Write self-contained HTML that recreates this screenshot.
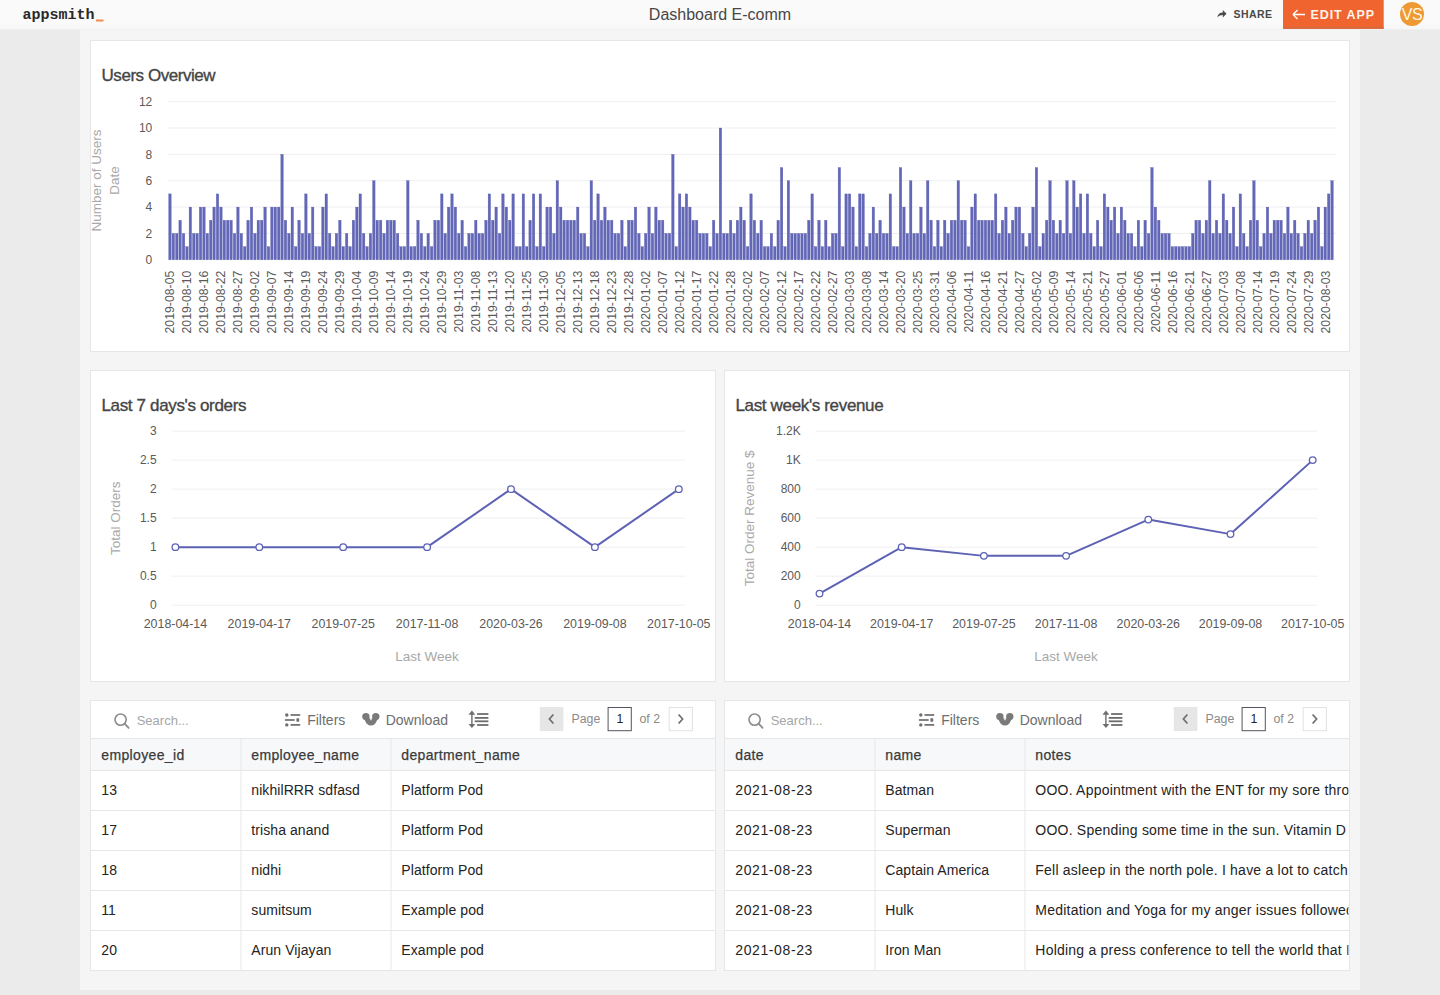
<!DOCTYPE html><html><head><meta charset="utf-8"><title>Dashboard E-comm</title><style>
*{margin:0;padding:0;box-sizing:border-box}
html,body{width:1440px;height:995px;overflow:hidden;background:#ebebeb;font-family:"Liberation Sans", sans-serif}
.abs{position:absolute}
.hdr{left:0;top:0;width:1440px;height:30px;background:linear-gradient(#fafafa 0,#fafafa 24px,#f8f8f8 25px,#f8f8f8 29px);border-bottom:1px solid #efefef}
.canvas{left:80px;top:30px;width:1280px;height:960px;background:#f5f5f5}
.card{background:#fff;border:1px solid #e6e6e6}
svg text{font-family:"Liberation Sans", sans-serif}
</style></head><body>
<div class="abs canvas"></div>
<div class="abs hdr"></div>
<div class="abs card" style="left:90px;top:40px;width:1260px;height:312px"></div>
<div class="abs card" style="left:90px;top:370px;width:626px;height:312px"></div>
<div class="abs card" style="left:724px;top:370px;width:626px;height:312px"></div>
<div class="abs card" style="left:90px;top:700px;width:626px;height:271px"></div>
<div class="abs card" style="left:724px;top:700px;width:626px;height:271px"></div>
<svg class="abs" style="left:0;top:0" width="1440" height="995" viewBox="0 0 1440 995">
<text x="22.5" y="18.5" style="font-family:Liberation Mono;font-weight:bold" font-size="15" fill="#2a2a2a">appsmith</text>
<rect x="96" y="19.5" width="7.5" height="2" fill="#f28b52"/>
<text x="720.00" y="20.00" font-size="16" fill="#474747" text-anchor="middle" >Dashboard E-comm</text>
<path d="M1217.3 17.6 C1217.8 14 1219.8 12.4 1222.8 12.4 L1222.8 10.1 L1226.5 13.8 L1222.8 17.4 L1222.8 15.1 C1220.6 15.1 1219.1 15.8 1217.3 17.6 Z" fill="#4a4a4a"/>
<text x="1233.50" y="17.70" font-size="10.5" fill="#4a4a4a" text-anchor="start" font-weight="bold" letter-spacing="0.45">SHARE</text>
<rect x="1283" y="0" width="100.7" height="28.8" fill="#f0652f"/><rect x="1283" y="26.8" width="100.7" height="2" fill="#d8683f"/>
<path d="M1293 14.5 H1305 M1293 14.5 L1297.5 10 M1293 14.5 L1297.5 19" stroke="#fff" stroke-width="1.4" fill="none"/>
<text x="1310.50" y="19.00" font-size="12.5" fill="#fff3ea" text-anchor="start" font-weight="bold" letter-spacing="0.9">EDIT APP</text>
<circle cx="1412" cy="14" r="12" fill="#ee9a34"/>
<text x="1412.00" y="20.00" font-size="16" fill="#fff6e0" text-anchor="middle" letter-spacing="-0.5">VS</text>
<text x="101.50" y="81.00" font-size="17" fill="#454545" text-anchor="start" letter-spacing="-0.45" stroke="#454545" stroke-width="0.35">Users Overview</text>
<rect x="168" y="259.30" width="1168" height="1" fill="#efefef"/>
<text x="152.30" y="264.00" font-size="12" fill="#5a5a5a" text-anchor="end" >0</text>
<rect x="168" y="232.94" width="1168" height="1" fill="#efefef"/>
<text x="152.30" y="237.64" font-size="12" fill="#5a5a5a" text-anchor="end" >2</text>
<rect x="168" y="206.58" width="1168" height="1" fill="#efefef"/>
<text x="152.30" y="211.28" font-size="12" fill="#5a5a5a" text-anchor="end" >4</text>
<rect x="168" y="180.22" width="1168" height="1" fill="#efefef"/>
<text x="152.30" y="184.92" font-size="12" fill="#5a5a5a" text-anchor="end" >6</text>
<rect x="168" y="153.86" width="1168" height="1" fill="#efefef"/>
<text x="152.30" y="158.56" font-size="12" fill="#5a5a5a" text-anchor="end" >8</text>
<rect x="168" y="127.50" width="1168" height="1" fill="#efefef"/>
<text x="152.30" y="132.20" font-size="12" fill="#5a5a5a" text-anchor="end" >10</text>
<rect x="168" y="101.14" width="1168" height="1" fill="#efefef"/>
<text x="152.30" y="105.84" font-size="12" fill="#5a5a5a" text-anchor="end" >12</text>
<g fill="#6367b7" stroke="#565bab" stroke-width="0.3"><rect x="168.70" y="193.90" width="2.5" height="65.90"/><rect x="172.10" y="233.44" width="2.5" height="26.36"/><rect x="175.50" y="233.44" width="2.5" height="26.36"/><rect x="178.89" y="220.26" width="2.5" height="39.54"/><rect x="182.29" y="233.44" width="2.5" height="26.36"/><rect x="185.69" y="246.62" width="2.5" height="13.18"/><rect x="189.09" y="207.08" width="2.5" height="52.72"/><rect x="192.49" y="233.44" width="2.5" height="26.36"/><rect x="195.88" y="233.44" width="2.5" height="26.36"/><rect x="199.28" y="207.08" width="2.5" height="52.72"/><rect x="202.68" y="207.08" width="2.5" height="52.72"/><rect x="206.08" y="233.44" width="2.5" height="26.36"/><rect x="209.48" y="220.26" width="2.5" height="39.54"/><rect x="212.87" y="207.08" width="2.5" height="52.72"/><rect x="216.27" y="193.90" width="2.5" height="65.90"/><rect x="219.67" y="207.08" width="2.5" height="52.72"/><rect x="223.07" y="220.26" width="2.5" height="39.54"/><rect x="226.47" y="220.26" width="2.5" height="39.54"/><rect x="229.86" y="220.26" width="2.5" height="39.54"/><rect x="233.26" y="233.44" width="2.5" height="26.36"/><rect x="236.66" y="207.08" width="2.5" height="52.72"/><rect x="240.06" y="233.44" width="2.5" height="26.36"/><rect x="243.46" y="246.62" width="2.5" height="13.18"/><rect x="246.85" y="220.26" width="2.5" height="39.54"/><rect x="250.25" y="207.08" width="2.5" height="52.72"/><rect x="253.65" y="233.44" width="2.5" height="26.36"/><rect x="257.05" y="220.26" width="2.5" height="39.54"/><rect x="260.45" y="220.26" width="2.5" height="39.54"/><rect x="263.84" y="207.08" width="2.5" height="52.72"/><rect x="267.24" y="246.62" width="2.5" height="13.18"/><rect x="270.64" y="207.08" width="2.5" height="52.72"/><rect x="274.04" y="207.08" width="2.5" height="52.72"/><rect x="277.44" y="207.08" width="2.5" height="52.72"/><rect x="280.83" y="154.36" width="2.5" height="105.44"/><rect x="284.23" y="220.26" width="2.5" height="39.54"/><rect x="287.63" y="233.44" width="2.5" height="26.36"/><rect x="291.03" y="207.08" width="2.5" height="52.72"/><rect x="294.43" y="246.62" width="2.5" height="13.18"/><rect x="297.82" y="220.26" width="2.5" height="39.54"/><rect x="301.22" y="233.44" width="2.5" height="26.36"/><rect x="304.62" y="193.90" width="2.5" height="65.90"/><rect x="308.02" y="233.44" width="2.5" height="26.36"/><rect x="311.42" y="207.08" width="2.5" height="52.72"/><rect x="314.81" y="246.62" width="2.5" height="13.18"/><rect x="318.21" y="246.62" width="2.5" height="13.18"/><rect x="321.61" y="207.08" width="2.5" height="52.72"/><rect x="325.01" y="193.90" width="2.5" height="65.90"/><rect x="328.41" y="233.44" width="2.5" height="26.36"/><rect x="331.80" y="246.62" width="2.5" height="13.18"/><rect x="335.20" y="233.44" width="2.5" height="26.36"/><rect x="338.60" y="220.26" width="2.5" height="39.54"/><rect x="342.00" y="246.62" width="2.5" height="13.18"/><rect x="345.40" y="233.44" width="2.5" height="26.36"/><rect x="348.79" y="246.62" width="2.5" height="13.18"/><rect x="352.19" y="220.26" width="2.5" height="39.54"/><rect x="355.59" y="207.08" width="2.5" height="52.72"/><rect x="358.99" y="193.90" width="2.5" height="65.90"/><rect x="362.39" y="233.44" width="2.5" height="26.36"/><rect x="365.78" y="246.62" width="2.5" height="13.18"/><rect x="369.18" y="233.44" width="2.5" height="26.36"/><rect x="372.58" y="180.72" width="2.5" height="79.08"/><rect x="375.98" y="220.26" width="2.5" height="39.54"/><rect x="379.38" y="220.26" width="2.5" height="39.54"/><rect x="382.77" y="233.44" width="2.5" height="26.36"/><rect x="386.17" y="220.26" width="2.5" height="39.54"/><rect x="389.57" y="220.26" width="2.5" height="39.54"/><rect x="392.97" y="220.26" width="2.5" height="39.54"/><rect x="396.37" y="233.44" width="2.5" height="26.36"/><rect x="399.76" y="246.62" width="2.5" height="13.18"/><rect x="403.16" y="246.62" width="2.5" height="13.18"/><rect x="406.56" y="180.72" width="2.5" height="79.08"/><rect x="409.96" y="246.62" width="2.5" height="13.18"/><rect x="413.36" y="246.62" width="2.5" height="13.18"/><rect x="416.75" y="220.26" width="2.5" height="39.54"/><rect x="420.15" y="233.44" width="2.5" height="26.36"/><rect x="423.55" y="246.62" width="2.5" height="13.18"/><rect x="426.95" y="233.44" width="2.5" height="26.36"/><rect x="430.35" y="246.62" width="2.5" height="13.18"/><rect x="433.74" y="220.26" width="2.5" height="39.54"/><rect x="437.14" y="220.26" width="2.5" height="39.54"/><rect x="440.54" y="193.90" width="2.5" height="65.90"/><rect x="443.94" y="233.44" width="2.5" height="26.36"/><rect x="447.34" y="207.08" width="2.5" height="52.72"/><rect x="450.73" y="193.90" width="2.5" height="65.90"/><rect x="454.13" y="207.08" width="2.5" height="52.72"/><rect x="457.53" y="233.44" width="2.5" height="26.36"/><rect x="460.93" y="220.26" width="2.5" height="39.54"/><rect x="464.33" y="246.62" width="2.5" height="13.18"/><rect x="467.72" y="233.44" width="2.5" height="26.36"/><rect x="471.12" y="233.44" width="2.5" height="26.36"/><rect x="474.52" y="220.26" width="2.5" height="39.54"/><rect x="477.92" y="233.44" width="2.5" height="26.36"/><rect x="481.32" y="233.44" width="2.5" height="26.36"/><rect x="484.71" y="220.26" width="2.5" height="39.54"/><rect x="488.11" y="193.90" width="2.5" height="65.90"/><rect x="491.51" y="220.26" width="2.5" height="39.54"/><rect x="494.91" y="207.08" width="2.5" height="52.72"/><rect x="498.31" y="233.44" width="2.5" height="26.36"/><rect x="501.70" y="193.90" width="2.5" height="65.90"/><rect x="505.10" y="207.08" width="2.5" height="52.72"/><rect x="508.50" y="220.26" width="2.5" height="39.54"/><rect x="511.90" y="193.90" width="2.5" height="65.90"/><rect x="515.30" y="246.62" width="2.5" height="13.18"/><rect x="518.69" y="246.62" width="2.5" height="13.18"/><rect x="522.09" y="193.90" width="2.5" height="65.90"/><rect x="525.49" y="246.62" width="2.5" height="13.18"/><rect x="528.89" y="220.26" width="2.5" height="39.54"/><rect x="532.29" y="193.90" width="2.5" height="65.90"/><rect x="535.68" y="246.62" width="2.5" height="13.18"/><rect x="539.08" y="193.90" width="2.5" height="65.90"/><rect x="542.48" y="246.62" width="2.5" height="13.18"/><rect x="545.88" y="207.08" width="2.5" height="52.72"/><rect x="549.28" y="207.08" width="2.5" height="52.72"/><rect x="552.67" y="233.44" width="2.5" height="26.36"/><rect x="556.07" y="180.72" width="2.5" height="79.08"/><rect x="559.47" y="207.08" width="2.5" height="52.72"/><rect x="562.87" y="220.26" width="2.5" height="39.54"/><rect x="566.27" y="220.26" width="2.5" height="39.54"/><rect x="569.66" y="220.26" width="2.5" height="39.54"/><rect x="573.06" y="220.26" width="2.5" height="39.54"/><rect x="576.46" y="207.08" width="2.5" height="52.72"/><rect x="579.86" y="233.44" width="2.5" height="26.36"/><rect x="583.26" y="233.44" width="2.5" height="26.36"/><rect x="586.65" y="246.62" width="2.5" height="13.18"/><rect x="590.05" y="180.72" width="2.5" height="79.08"/><rect x="593.45" y="220.26" width="2.5" height="39.54"/><rect x="596.85" y="193.90" width="2.5" height="65.90"/><rect x="600.25" y="220.26" width="2.5" height="39.54"/><rect x="603.64" y="207.08" width="2.5" height="52.72"/><rect x="607.04" y="220.26" width="2.5" height="39.54"/><rect x="610.44" y="220.26" width="2.5" height="39.54"/><rect x="613.84" y="233.44" width="2.5" height="26.36"/><rect x="617.24" y="233.44" width="2.5" height="26.36"/><rect x="620.63" y="220.26" width="2.5" height="39.54"/><rect x="624.03" y="246.62" width="2.5" height="13.18"/><rect x="627.43" y="220.26" width="2.5" height="39.54"/><rect x="630.83" y="220.26" width="2.5" height="39.54"/><rect x="634.23" y="207.08" width="2.5" height="52.72"/><rect x="637.62" y="233.44" width="2.5" height="26.36"/><rect x="641.02" y="246.62" width="2.5" height="13.18"/><rect x="644.42" y="233.44" width="2.5" height="26.36"/><rect x="647.82" y="207.08" width="2.5" height="52.72"/><rect x="651.22" y="233.44" width="2.5" height="26.36"/><rect x="654.61" y="207.08" width="2.5" height="52.72"/><rect x="658.01" y="220.26" width="2.5" height="39.54"/><rect x="661.41" y="220.26" width="2.5" height="39.54"/><rect x="664.81" y="233.44" width="2.5" height="26.36"/><rect x="668.21" y="233.44" width="2.5" height="26.36"/><rect x="671.60" y="154.36" width="2.5" height="105.44"/><rect x="675.00" y="246.62" width="2.5" height="13.18"/><rect x="678.40" y="193.90" width="2.5" height="65.90"/><rect x="681.80" y="207.08" width="2.5" height="52.72"/><rect x="685.20" y="193.90" width="2.5" height="65.90"/><rect x="688.59" y="207.08" width="2.5" height="52.72"/><rect x="691.99" y="220.26" width="2.5" height="39.54"/><rect x="695.39" y="220.26" width="2.5" height="39.54"/><rect x="698.79" y="233.44" width="2.5" height="26.36"/><rect x="702.19" y="233.44" width="2.5" height="26.36"/><rect x="705.58" y="233.44" width="2.5" height="26.36"/><rect x="708.98" y="246.62" width="2.5" height="13.18"/><rect x="712.38" y="220.26" width="2.5" height="39.54"/><rect x="715.78" y="233.44" width="2.5" height="26.36"/><rect x="719.18" y="128.00" width="2.5" height="131.80"/><rect x="722.57" y="233.44" width="2.5" height="26.36"/><rect x="725.97" y="233.44" width="2.5" height="26.36"/><rect x="729.37" y="220.26" width="2.5" height="39.54"/><rect x="732.77" y="233.44" width="2.5" height="26.36"/><rect x="736.17" y="220.26" width="2.5" height="39.54"/><rect x="739.56" y="207.08" width="2.5" height="52.72"/><rect x="742.96" y="220.26" width="2.5" height="39.54"/><rect x="746.36" y="246.62" width="2.5" height="13.18"/><rect x="749.76" y="193.90" width="2.5" height="65.90"/><rect x="753.16" y="220.26" width="2.5" height="39.54"/><rect x="756.55" y="233.44" width="2.5" height="26.36"/><rect x="759.95" y="220.26" width="2.5" height="39.54"/><rect x="763.35" y="246.62" width="2.5" height="13.18"/><rect x="766.75" y="246.62" width="2.5" height="13.18"/><rect x="770.15" y="233.44" width="2.5" height="26.36"/><rect x="773.54" y="246.62" width="2.5" height="13.18"/><rect x="776.94" y="220.26" width="2.5" height="39.54"/><rect x="780.34" y="167.54" width="2.5" height="92.26"/><rect x="783.74" y="246.62" width="2.5" height="13.18"/><rect x="787.14" y="180.72" width="2.5" height="79.08"/><rect x="790.53" y="233.44" width="2.5" height="26.36"/><rect x="793.93" y="233.44" width="2.5" height="26.36"/><rect x="797.33" y="233.44" width="2.5" height="26.36"/><rect x="800.73" y="233.44" width="2.5" height="26.36"/><rect x="804.13" y="233.44" width="2.5" height="26.36"/><rect x="807.52" y="220.26" width="2.5" height="39.54"/><rect x="810.92" y="193.90" width="2.5" height="65.90"/><rect x="814.32" y="246.62" width="2.5" height="13.18"/><rect x="817.72" y="220.26" width="2.5" height="39.54"/><rect x="821.12" y="246.62" width="2.5" height="13.18"/><rect x="824.51" y="220.26" width="2.5" height="39.54"/><rect x="827.91" y="246.62" width="2.5" height="13.18"/><rect x="831.31" y="233.44" width="2.5" height="26.36"/><rect x="834.71" y="233.44" width="2.5" height="26.36"/><rect x="838.11" y="167.54" width="2.5" height="92.26"/><rect x="841.50" y="246.62" width="2.5" height="13.18"/><rect x="844.90" y="193.90" width="2.5" height="65.90"/><rect x="848.30" y="193.90" width="2.5" height="65.90"/><rect x="851.70" y="207.08" width="2.5" height="52.72"/><rect x="855.10" y="246.62" width="2.5" height="13.18"/><rect x="858.49" y="193.90" width="2.5" height="65.90"/><rect x="861.89" y="193.90" width="2.5" height="65.90"/><rect x="865.29" y="246.62" width="2.5" height="13.18"/><rect x="868.69" y="233.44" width="2.5" height="26.36"/><rect x="872.09" y="207.08" width="2.5" height="52.72"/><rect x="875.48" y="233.44" width="2.5" height="26.36"/><rect x="878.88" y="220.26" width="2.5" height="39.54"/><rect x="882.28" y="233.44" width="2.5" height="26.36"/><rect x="885.68" y="233.44" width="2.5" height="26.36"/><rect x="889.08" y="193.90" width="2.5" height="65.90"/><rect x="892.47" y="246.62" width="2.5" height="13.18"/><rect x="895.87" y="246.62" width="2.5" height="13.18"/><rect x="899.27" y="167.54" width="2.5" height="92.26"/><rect x="902.67" y="207.08" width="2.5" height="52.72"/><rect x="906.07" y="233.44" width="2.5" height="26.36"/><rect x="909.46" y="180.72" width="2.5" height="79.08"/><rect x="912.86" y="233.44" width="2.5" height="26.36"/><rect x="916.26" y="233.44" width="2.5" height="26.36"/><rect x="919.66" y="207.08" width="2.5" height="52.72"/><rect x="923.06" y="233.44" width="2.5" height="26.36"/><rect x="926.45" y="180.72" width="2.5" height="79.08"/><rect x="929.85" y="220.26" width="2.5" height="39.54"/><rect x="933.25" y="246.62" width="2.5" height="13.18"/><rect x="936.65" y="220.26" width="2.5" height="39.54"/><rect x="940.05" y="246.62" width="2.5" height="13.18"/><rect x="943.44" y="220.26" width="2.5" height="39.54"/><rect x="946.84" y="233.44" width="2.5" height="26.36"/><rect x="950.24" y="220.26" width="2.5" height="39.54"/><rect x="953.64" y="220.26" width="2.5" height="39.54"/><rect x="957.04" y="180.72" width="2.5" height="79.08"/><rect x="960.43" y="220.26" width="2.5" height="39.54"/><rect x="963.83" y="220.26" width="2.5" height="39.54"/><rect x="967.23" y="246.62" width="2.5" height="13.18"/><rect x="970.63" y="207.08" width="2.5" height="52.72"/><rect x="974.03" y="193.90" width="2.5" height="65.90"/><rect x="977.42" y="220.26" width="2.5" height="39.54"/><rect x="980.82" y="220.26" width="2.5" height="39.54"/><rect x="984.22" y="220.26" width="2.5" height="39.54"/><rect x="987.62" y="220.26" width="2.5" height="39.54"/><rect x="991.02" y="220.26" width="2.5" height="39.54"/><rect x="994.41" y="193.90" width="2.5" height="65.90"/><rect x="997.81" y="233.44" width="2.5" height="26.36"/><rect x="1001.21" y="220.26" width="2.5" height="39.54"/><rect x="1004.61" y="207.08" width="2.5" height="52.72"/><rect x="1008.01" y="233.44" width="2.5" height="26.36"/><rect x="1011.40" y="220.26" width="2.5" height="39.54"/><rect x="1014.80" y="207.08" width="2.5" height="52.72"/><rect x="1018.20" y="207.08" width="2.5" height="52.72"/><rect x="1021.60" y="233.44" width="2.5" height="26.36"/><rect x="1025.00" y="246.62" width="2.5" height="13.18"/><rect x="1028.39" y="233.44" width="2.5" height="26.36"/><rect x="1031.79" y="207.08" width="2.5" height="52.72"/><rect x="1035.19" y="167.54" width="2.5" height="92.26"/><rect x="1038.59" y="246.62" width="2.5" height="13.18"/><rect x="1041.99" y="233.44" width="2.5" height="26.36"/><rect x="1045.38" y="220.26" width="2.5" height="39.54"/><rect x="1048.78" y="180.72" width="2.5" height="79.08"/><rect x="1052.18" y="220.26" width="2.5" height="39.54"/><rect x="1055.58" y="233.44" width="2.5" height="26.36"/><rect x="1058.98" y="220.26" width="2.5" height="39.54"/><rect x="1062.37" y="233.44" width="2.5" height="26.36"/><rect x="1065.77" y="180.72" width="2.5" height="79.08"/><rect x="1069.17" y="233.44" width="2.5" height="26.36"/><rect x="1072.57" y="180.72" width="2.5" height="79.08"/><rect x="1075.97" y="207.08" width="2.5" height="52.72"/><rect x="1079.36" y="193.90" width="2.5" height="65.90"/><rect x="1082.76" y="233.44" width="2.5" height="26.36"/><rect x="1086.16" y="193.90" width="2.5" height="65.90"/><rect x="1089.56" y="233.44" width="2.5" height="26.36"/><rect x="1092.96" y="246.62" width="2.5" height="13.18"/><rect x="1096.35" y="220.26" width="2.5" height="39.54"/><rect x="1099.75" y="246.62" width="2.5" height="13.18"/><rect x="1103.15" y="193.90" width="2.5" height="65.90"/><rect x="1106.55" y="207.08" width="2.5" height="52.72"/><rect x="1109.95" y="220.26" width="2.5" height="39.54"/><rect x="1113.34" y="207.08" width="2.5" height="52.72"/><rect x="1116.74" y="233.44" width="2.5" height="26.36"/><rect x="1120.14" y="207.08" width="2.5" height="52.72"/><rect x="1123.54" y="220.26" width="2.5" height="39.54"/><rect x="1126.94" y="233.44" width="2.5" height="26.36"/><rect x="1130.33" y="233.44" width="2.5" height="26.36"/><rect x="1133.73" y="246.62" width="2.5" height="13.18"/><rect x="1137.13" y="220.26" width="2.5" height="39.54"/><rect x="1140.53" y="246.62" width="2.5" height="13.18"/><rect x="1143.93" y="220.26" width="2.5" height="39.54"/><rect x="1147.32" y="233.44" width="2.5" height="26.36"/><rect x="1150.72" y="167.54" width="2.5" height="92.26"/><rect x="1154.12" y="207.08" width="2.5" height="52.72"/><rect x="1157.52" y="220.26" width="2.5" height="39.54"/><rect x="1160.92" y="233.44" width="2.5" height="26.36"/><rect x="1164.31" y="233.44" width="2.5" height="26.36"/><rect x="1167.71" y="233.44" width="2.5" height="26.36"/><rect x="1171.11" y="246.62" width="2.5" height="13.18"/><rect x="1174.51" y="246.62" width="2.5" height="13.18"/><rect x="1177.91" y="246.62" width="2.5" height="13.18"/><rect x="1181.30" y="246.62" width="2.5" height="13.18"/><rect x="1184.70" y="246.62" width="2.5" height="13.18"/><rect x="1188.10" y="246.62" width="2.5" height="13.18"/><rect x="1191.50" y="233.44" width="2.5" height="26.36"/><rect x="1194.90" y="220.26" width="2.5" height="39.54"/><rect x="1198.29" y="220.26" width="2.5" height="39.54"/><rect x="1201.69" y="233.44" width="2.5" height="26.36"/><rect x="1205.09" y="220.26" width="2.5" height="39.54"/><rect x="1208.49" y="180.72" width="2.5" height="79.08"/><rect x="1211.89" y="233.44" width="2.5" height="26.36"/><rect x="1215.28" y="220.26" width="2.5" height="39.54"/><rect x="1218.68" y="233.44" width="2.5" height="26.36"/><rect x="1222.08" y="193.90" width="2.5" height="65.90"/><rect x="1225.48" y="220.26" width="2.5" height="39.54"/><rect x="1228.88" y="233.44" width="2.5" height="26.36"/><rect x="1232.27" y="207.08" width="2.5" height="52.72"/><rect x="1235.67" y="246.62" width="2.5" height="13.18"/><rect x="1239.07" y="193.90" width="2.5" height="65.90"/><rect x="1242.47" y="233.44" width="2.5" height="26.36"/><rect x="1245.87" y="246.62" width="2.5" height="13.18"/><rect x="1249.26" y="220.26" width="2.5" height="39.54"/><rect x="1252.66" y="180.72" width="2.5" height="79.08"/><rect x="1256.06" y="220.26" width="2.5" height="39.54"/><rect x="1259.46" y="246.62" width="2.5" height="13.18"/><rect x="1262.86" y="233.44" width="2.5" height="26.36"/><rect x="1266.25" y="207.08" width="2.5" height="52.72"/><rect x="1269.65" y="233.44" width="2.5" height="26.36"/><rect x="1273.05" y="220.26" width="2.5" height="39.54"/><rect x="1276.45" y="220.26" width="2.5" height="39.54"/><rect x="1279.85" y="220.26" width="2.5" height="39.54"/><rect x="1283.24" y="233.44" width="2.5" height="26.36"/><rect x="1286.64" y="207.08" width="2.5" height="52.72"/><rect x="1290.04" y="233.44" width="2.5" height="26.36"/><rect x="1293.44" y="220.26" width="2.5" height="39.54"/><rect x="1296.84" y="233.44" width="2.5" height="26.36"/><rect x="1300.23" y="246.62" width="2.5" height="13.18"/><rect x="1303.63" y="233.44" width="2.5" height="26.36"/><rect x="1307.03" y="220.26" width="2.5" height="39.54"/><rect x="1310.43" y="233.44" width="2.5" height="26.36"/><rect x="1313.83" y="220.26" width="2.5" height="39.54"/><rect x="1317.22" y="207.08" width="2.5" height="52.72"/><rect x="1320.62" y="246.62" width="2.5" height="13.18"/><rect x="1324.02" y="207.08" width="2.5" height="52.72"/><rect x="1327.42" y="193.90" width="2.5" height="65.90"/><rect x="1330.82" y="180.72" width="2.5" height="79.08"/></g>
<text transform="translate(174.25,270.6) rotate(-90)" font-size="12.3" fill="#5a5a5a" text-anchor="end">2019-08-05</text>
<text transform="translate(191.24,270.6) rotate(-90)" font-size="12.3" fill="#5a5a5a" text-anchor="end">2019-08-10</text>
<text transform="translate(208.23,270.6) rotate(-90)" font-size="12.3" fill="#5a5a5a" text-anchor="end">2019-08-16</text>
<text transform="translate(225.22,270.6) rotate(-90)" font-size="12.3" fill="#5a5a5a" text-anchor="end">2019-08-22</text>
<text transform="translate(242.21,270.6) rotate(-90)" font-size="12.3" fill="#5a5a5a" text-anchor="end">2019-08-27</text>
<text transform="translate(259.20,270.6) rotate(-90)" font-size="12.3" fill="#5a5a5a" text-anchor="end">2019-09-02</text>
<text transform="translate(276.19,270.6) rotate(-90)" font-size="12.3" fill="#5a5a5a" text-anchor="end">2019-09-07</text>
<text transform="translate(293.18,270.6) rotate(-90)" font-size="12.3" fill="#5a5a5a" text-anchor="end">2019-09-14</text>
<text transform="translate(310.17,270.6) rotate(-90)" font-size="12.3" fill="#5a5a5a" text-anchor="end">2019-09-19</text>
<text transform="translate(327.16,270.6) rotate(-90)" font-size="12.3" fill="#5a5a5a" text-anchor="end">2019-09-24</text>
<text transform="translate(344.15,270.6) rotate(-90)" font-size="12.3" fill="#5a5a5a" text-anchor="end">2019-09-29</text>
<text transform="translate(361.14,270.6) rotate(-90)" font-size="12.3" fill="#5a5a5a" text-anchor="end">2019-10-04</text>
<text transform="translate(378.13,270.6) rotate(-90)" font-size="12.3" fill="#5a5a5a" text-anchor="end">2019-10-09</text>
<text transform="translate(395.12,270.6) rotate(-90)" font-size="12.3" fill="#5a5a5a" text-anchor="end">2019-10-14</text>
<text transform="translate(412.11,270.6) rotate(-90)" font-size="12.3" fill="#5a5a5a" text-anchor="end">2019-10-19</text>
<text transform="translate(429.10,270.6) rotate(-90)" font-size="12.3" fill="#5a5a5a" text-anchor="end">2019-10-24</text>
<text transform="translate(446.09,270.6) rotate(-90)" font-size="12.3" fill="#5a5a5a" text-anchor="end">2019-10-29</text>
<text transform="translate(463.08,270.6) rotate(-90)" font-size="12.3" fill="#5a5a5a" text-anchor="end">2019-11-03</text>
<text transform="translate(480.07,270.6) rotate(-90)" font-size="12.3" fill="#5a5a5a" text-anchor="end">2019-11-08</text>
<text transform="translate(497.06,270.6) rotate(-90)" font-size="12.3" fill="#5a5a5a" text-anchor="end">2019-11-13</text>
<text transform="translate(514.05,270.6) rotate(-90)" font-size="12.3" fill="#5a5a5a" text-anchor="end">2019-11-20</text>
<text transform="translate(531.04,270.6) rotate(-90)" font-size="12.3" fill="#5a5a5a" text-anchor="end">2019-11-25</text>
<text transform="translate(548.03,270.6) rotate(-90)" font-size="12.3" fill="#5a5a5a" text-anchor="end">2019-11-30</text>
<text transform="translate(565.02,270.6) rotate(-90)" font-size="12.3" fill="#5a5a5a" text-anchor="end">2019-12-05</text>
<text transform="translate(582.01,270.6) rotate(-90)" font-size="12.3" fill="#5a5a5a" text-anchor="end">2019-12-13</text>
<text transform="translate(599.00,270.6) rotate(-90)" font-size="12.3" fill="#5a5a5a" text-anchor="end">2019-12-18</text>
<text transform="translate(615.99,270.6) rotate(-90)" font-size="12.3" fill="#5a5a5a" text-anchor="end">2019-12-23</text>
<text transform="translate(632.98,270.6) rotate(-90)" font-size="12.3" fill="#5a5a5a" text-anchor="end">2019-12-28</text>
<text transform="translate(649.97,270.6) rotate(-90)" font-size="12.3" fill="#5a5a5a" text-anchor="end">2020-01-02</text>
<text transform="translate(666.96,270.6) rotate(-90)" font-size="12.3" fill="#5a5a5a" text-anchor="end">2020-01-07</text>
<text transform="translate(683.95,270.6) rotate(-90)" font-size="12.3" fill="#5a5a5a" text-anchor="end">2020-01-12</text>
<text transform="translate(700.94,270.6) rotate(-90)" font-size="12.3" fill="#5a5a5a" text-anchor="end">2020-01-17</text>
<text transform="translate(717.93,270.6) rotate(-90)" font-size="12.3" fill="#5a5a5a" text-anchor="end">2020-01-22</text>
<text transform="translate(734.92,270.6) rotate(-90)" font-size="12.3" fill="#5a5a5a" text-anchor="end">2020-01-28</text>
<text transform="translate(751.91,270.6) rotate(-90)" font-size="12.3" fill="#5a5a5a" text-anchor="end">2020-02-02</text>
<text transform="translate(768.90,270.6) rotate(-90)" font-size="12.3" fill="#5a5a5a" text-anchor="end">2020-02-07</text>
<text transform="translate(785.89,270.6) rotate(-90)" font-size="12.3" fill="#5a5a5a" text-anchor="end">2020-02-12</text>
<text transform="translate(802.88,270.6) rotate(-90)" font-size="12.3" fill="#5a5a5a" text-anchor="end">2020-02-17</text>
<text transform="translate(819.87,270.6) rotate(-90)" font-size="12.3" fill="#5a5a5a" text-anchor="end">2020-02-22</text>
<text transform="translate(836.86,270.6) rotate(-90)" font-size="12.3" fill="#5a5a5a" text-anchor="end">2020-02-27</text>
<text transform="translate(853.85,270.6) rotate(-90)" font-size="12.3" fill="#5a5a5a" text-anchor="end">2020-03-03</text>
<text transform="translate(870.84,270.6) rotate(-90)" font-size="12.3" fill="#5a5a5a" text-anchor="end">2020-03-08</text>
<text transform="translate(887.83,270.6) rotate(-90)" font-size="12.3" fill="#5a5a5a" text-anchor="end">2020-03-14</text>
<text transform="translate(904.82,270.6) rotate(-90)" font-size="12.3" fill="#5a5a5a" text-anchor="end">2020-03-20</text>
<text transform="translate(921.81,270.6) rotate(-90)" font-size="12.3" fill="#5a5a5a" text-anchor="end">2020-03-25</text>
<text transform="translate(938.80,270.6) rotate(-90)" font-size="12.3" fill="#5a5a5a" text-anchor="end">2020-03-31</text>
<text transform="translate(955.79,270.6) rotate(-90)" font-size="12.3" fill="#5a5a5a" text-anchor="end">2020-04-06</text>
<text transform="translate(972.78,270.6) rotate(-90)" font-size="12.3" fill="#5a5a5a" text-anchor="end">2020-04-11</text>
<text transform="translate(989.77,270.6) rotate(-90)" font-size="12.3" fill="#5a5a5a" text-anchor="end">2020-04-16</text>
<text transform="translate(1006.76,270.6) rotate(-90)" font-size="12.3" fill="#5a5a5a" text-anchor="end">2020-04-21</text>
<text transform="translate(1023.75,270.6) rotate(-90)" font-size="12.3" fill="#5a5a5a" text-anchor="end">2020-04-27</text>
<text transform="translate(1040.74,270.6) rotate(-90)" font-size="12.3" fill="#5a5a5a" text-anchor="end">2020-05-02</text>
<text transform="translate(1057.73,270.6) rotate(-90)" font-size="12.3" fill="#5a5a5a" text-anchor="end">2020-05-09</text>
<text transform="translate(1074.72,270.6) rotate(-90)" font-size="12.3" fill="#5a5a5a" text-anchor="end">2020-05-14</text>
<text transform="translate(1091.71,270.6) rotate(-90)" font-size="12.3" fill="#5a5a5a" text-anchor="end">2020-05-21</text>
<text transform="translate(1108.70,270.6) rotate(-90)" font-size="12.3" fill="#5a5a5a" text-anchor="end">2020-05-27</text>
<text transform="translate(1125.69,270.6) rotate(-90)" font-size="12.3" fill="#5a5a5a" text-anchor="end">2020-06-01</text>
<text transform="translate(1142.68,270.6) rotate(-90)" font-size="12.3" fill="#5a5a5a" text-anchor="end">2020-06-06</text>
<text transform="translate(1159.67,270.6) rotate(-90)" font-size="12.3" fill="#5a5a5a" text-anchor="end">2020-06-11</text>
<text transform="translate(1176.66,270.6) rotate(-90)" font-size="12.3" fill="#5a5a5a" text-anchor="end">2020-06-16</text>
<text transform="translate(1193.65,270.6) rotate(-90)" font-size="12.3" fill="#5a5a5a" text-anchor="end">2020-06-21</text>
<text transform="translate(1210.64,270.6) rotate(-90)" font-size="12.3" fill="#5a5a5a" text-anchor="end">2020-06-27</text>
<text transform="translate(1227.63,270.6) rotate(-90)" font-size="12.3" fill="#5a5a5a" text-anchor="end">2020-07-03</text>
<text transform="translate(1244.62,270.6) rotate(-90)" font-size="12.3" fill="#5a5a5a" text-anchor="end">2020-07-08</text>
<text transform="translate(1261.61,270.6) rotate(-90)" font-size="12.3" fill="#5a5a5a" text-anchor="end">2020-07-14</text>
<text transform="translate(1278.60,270.6) rotate(-90)" font-size="12.3" fill="#5a5a5a" text-anchor="end">2020-07-19</text>
<text transform="translate(1295.59,270.6) rotate(-90)" font-size="12.3" fill="#5a5a5a" text-anchor="end">2020-07-24</text>
<text transform="translate(1312.58,270.6) rotate(-90)" font-size="12.3" fill="#5a5a5a" text-anchor="end">2020-07-29</text>
<text transform="translate(1329.57,270.6) rotate(-90)" font-size="12.3" fill="#5a5a5a" text-anchor="end">2020-08-03</text>
<text transform="translate(100.5,180.5) rotate(-90)" font-size="13.5" fill="#a8a8a8" text-anchor="middle">Number of Users</text>
<text transform="translate(118.5,180.5) rotate(-90)" font-size="13.5" fill="#a8a8a8" text-anchor="middle">Date</text>
<text x="101.50" y="411.00" font-size="17" fill="#454545" text-anchor="start" letter-spacing="-0.35" stroke="#454545" stroke-width="0.35">Last 7 days's orders</text>
<rect x="171.7" y="604.70" width="513.3" height="1" fill="#efefef"/>
<text x="156.60" y="609.40" font-size="12" fill="#5a5a5a" text-anchor="end" >0</text>
<rect x="171.7" y="575.68" width="513.3" height="1" fill="#efefef"/>
<text x="156.60" y="580.38" font-size="12" fill="#5a5a5a" text-anchor="end" >0.5</text>
<rect x="171.7" y="546.67" width="513.3" height="1" fill="#efefef"/>
<text x="156.60" y="551.37" font-size="12" fill="#5a5a5a" text-anchor="end" >1</text>
<rect x="171.7" y="517.65" width="513.3" height="1" fill="#efefef"/>
<text x="156.60" y="522.35" font-size="12" fill="#5a5a5a" text-anchor="end" >1.5</text>
<rect x="171.7" y="488.63" width="513.3" height="1" fill="#efefef"/>
<text x="156.60" y="493.33" font-size="12" fill="#5a5a5a" text-anchor="end" >2</text>
<rect x="171.7" y="459.62" width="513.3" height="1" fill="#efefef"/>
<text x="156.60" y="464.32" font-size="12" fill="#5a5a5a" text-anchor="end" >2.5</text>
<rect x="171.7" y="430.60" width="513.3" height="1" fill="#efefef"/>
<text x="156.60" y="435.30" font-size="12" fill="#5a5a5a" text-anchor="end" >3</text>
<polyline points="175.40,547.17 259.30,547.17 343.20,547.17 427.10,547.17 511.00,489.13 594.90,547.17 678.80,489.13" fill="none" stroke="#5D62B5" stroke-width="2" stroke-linejoin="round"/>
<circle cx="175.40" cy="547.17" r="3.3" fill="#fff" stroke="#5D62B5" stroke-width="1.3"/>
<circle cx="259.30" cy="547.17" r="3.3" fill="#fff" stroke="#5D62B5" stroke-width="1.3"/>
<circle cx="343.20" cy="547.17" r="3.3" fill="#fff" stroke="#5D62B5" stroke-width="1.3"/>
<circle cx="427.10" cy="547.17" r="3.3" fill="#fff" stroke="#5D62B5" stroke-width="1.3"/>
<circle cx="511.00" cy="489.13" r="3.3" fill="#fff" stroke="#5D62B5" stroke-width="1.3"/>
<circle cx="594.90" cy="547.17" r="3.3" fill="#fff" stroke="#5D62B5" stroke-width="1.3"/>
<circle cx="678.80" cy="489.13" r="3.3" fill="#fff" stroke="#5D62B5" stroke-width="1.3"/>
<text x="175.40" y="627.80" font-size="12.4" fill="#5a5a5a" text-anchor="middle" >2018-04-14</text>
<text x="259.30" y="627.80" font-size="12.4" fill="#5a5a5a" text-anchor="middle" >2019-04-17</text>
<text x="343.20" y="627.80" font-size="12.4" fill="#5a5a5a" text-anchor="middle" >2019-07-25</text>
<text x="427.10" y="627.80" font-size="12.4" fill="#5a5a5a" text-anchor="middle" >2017-11-08</text>
<text x="511.00" y="627.80" font-size="12.4" fill="#5a5a5a" text-anchor="middle" >2020-03-26</text>
<text x="594.90" y="627.80" font-size="12.4" fill="#5a5a5a" text-anchor="middle" >2019-09-08</text>
<text x="678.80" y="627.80" font-size="12.4" fill="#5a5a5a" text-anchor="middle" >2017-10-05</text>
<text x="427.10" y="661.00" font-size="13.5" fill="#a8a8a8" text-anchor="middle" >Last Week</text>
<text transform="translate(119.8,518.3) rotate(-90)" font-size="13.5" fill="#a8a8a8" text-anchor="middle">Total Orders</text>
<text x="735.50" y="411.00" font-size="17" fill="#454545" text-anchor="start" letter-spacing="-0.35" stroke="#454545" stroke-width="0.35">Last week's revenue</text>
<rect x="816" y="604.70" width="501.5" height="1" fill="#efefef"/>
<text x="800.70" y="609.40" font-size="12" fill="#5a5a5a" text-anchor="end" >0</text>
<rect x="816" y="575.68" width="501.5" height="1" fill="#efefef"/>
<text x="800.70" y="580.38" font-size="12" fill="#5a5a5a" text-anchor="end" >200</text>
<rect x="816" y="546.67" width="501.5" height="1" fill="#efefef"/>
<text x="800.70" y="551.37" font-size="12" fill="#5a5a5a" text-anchor="end" >400</text>
<rect x="816" y="517.65" width="501.5" height="1" fill="#efefef"/>
<text x="800.70" y="522.35" font-size="12" fill="#5a5a5a" text-anchor="end" >600</text>
<rect x="816" y="488.63" width="501.5" height="1" fill="#efefef"/>
<text x="800.70" y="493.33" font-size="12" fill="#5a5a5a" text-anchor="end" >800</text>
<rect x="816" y="459.62" width="501.5" height="1" fill="#efefef"/>
<text x="800.70" y="464.32" font-size="12" fill="#5a5a5a" text-anchor="end" >1K</text>
<rect x="816" y="430.60" width="501.5" height="1" fill="#efefef"/>
<text x="800.70" y="435.30" font-size="12" fill="#5a5a5a" text-anchor="end" >1.2K</text>
<polyline points="819.50,593.59 901.70,547.17 983.90,555.87 1066.10,555.87 1148.30,519.60 1230.50,534.11 1312.70,460.12" fill="none" stroke="#5D62B5" stroke-width="2" stroke-linejoin="round"/>
<circle cx="819.50" cy="593.59" r="3.3" fill="#fff" stroke="#5D62B5" stroke-width="1.3"/>
<circle cx="901.70" cy="547.17" r="3.3" fill="#fff" stroke="#5D62B5" stroke-width="1.3"/>
<circle cx="983.90" cy="555.87" r="3.3" fill="#fff" stroke="#5D62B5" stroke-width="1.3"/>
<circle cx="1066.10" cy="555.87" r="3.3" fill="#fff" stroke="#5D62B5" stroke-width="1.3"/>
<circle cx="1148.30" cy="519.60" r="3.3" fill="#fff" stroke="#5D62B5" stroke-width="1.3"/>
<circle cx="1230.50" cy="534.11" r="3.3" fill="#fff" stroke="#5D62B5" stroke-width="1.3"/>
<circle cx="1312.70" cy="460.12" r="3.3" fill="#fff" stroke="#5D62B5" stroke-width="1.3"/>
<text x="819.50" y="627.80" font-size="12.4" fill="#5a5a5a" text-anchor="middle" >2018-04-14</text>
<text x="901.70" y="627.80" font-size="12.4" fill="#5a5a5a" text-anchor="middle" >2019-04-17</text>
<text x="983.90" y="627.80" font-size="12.4" fill="#5a5a5a" text-anchor="middle" >2019-07-25</text>
<text x="1066.10" y="627.80" font-size="12.4" fill="#5a5a5a" text-anchor="middle" >2017-11-08</text>
<text x="1148.30" y="627.80" font-size="12.4" fill="#5a5a5a" text-anchor="middle" >2020-03-26</text>
<text x="1230.50" y="627.80" font-size="12.4" fill="#5a5a5a" text-anchor="middle" >2019-09-08</text>
<text x="1312.70" y="627.80" font-size="12.4" fill="#5a5a5a" text-anchor="middle" >2017-10-05</text>
<text x="1066.10" y="661.00" font-size="13.5" fill="#a8a8a8" text-anchor="middle" >Last Week</text>
<text transform="translate(754.3,518.3) rotate(-90)" font-size="13.5" fill="#a8a8a8" text-anchor="middle">Total Order Revenue $</text>
<rect x="91.00" y="739" width="624.00" height="31" fill="#f7f8fa"/>
<rect x="90.50" y="738" width="625.00" height="1" fill="#e6e6e6"/>
<rect x="90.50" y="770" width="625.00" height="1" fill="#e6e6e6"/>
<rect x="90.50" y="810" width="625.00" height="1" fill="#e6e6e6"/>
<rect x="90.50" y="850" width="625.00" height="1" fill="#e6e6e6"/>
<rect x="90.50" y="890" width="625.00" height="1" fill="#e6e6e6"/>
<rect x="90.50" y="930" width="625.00" height="1" fill="#e6e6e6"/>
<rect x="90.50" y="970" width="625.00" height="1" fill="#e6e6e6"/>
<rect x="240.50" y="739" width="1" height="231" fill="#e8e8e8"/>
<rect x="390.50" y="739" width="1" height="231" fill="#e8e8e8"/>
<clipPath id="c1"><rect x="90.50" y="700" width="624.00" height="271"/></clipPath>
<g clip-path="url(#c1)">
<text x="101.30" y="760.00" font-size="14" fill="#3a3a3a" text-anchor="start" letter-spacing="0.35" stroke="#3a3a3a" stroke-width="0.25">employee_id</text>
<text x="251.30" y="760.00" font-size="14" fill="#3a3a3a" text-anchor="start" letter-spacing="0.35" stroke="#3a3a3a" stroke-width="0.25">employee_name</text>
<text x="401.30" y="760.00" font-size="14" fill="#3a3a3a" text-anchor="start" letter-spacing="0.35" stroke="#3a3a3a" stroke-width="0.25">department_name</text>
<text x="101.30" y="795.00" font-size="14" fill="#232323" text-anchor="start" letter-spacing="0.08">13</text>
<text x="251.30" y="795.00" font-size="14" fill="#232323" text-anchor="start" letter-spacing="0.08">nikhilRRR sdfasd</text>
<text x="401.30" y="795.00" font-size="14" fill="#232323" text-anchor="start" letter-spacing="0.08">Platform Pod</text>
<text x="101.30" y="835.00" font-size="14" fill="#232323" text-anchor="start" letter-spacing="0.08">17</text>
<text x="251.30" y="835.00" font-size="14" fill="#232323" text-anchor="start" letter-spacing="0.08">trisha anand</text>
<text x="401.30" y="835.00" font-size="14" fill="#232323" text-anchor="start" letter-spacing="0.08">Platform Pod</text>
<text x="101.30" y="875.00" font-size="14" fill="#232323" text-anchor="start" letter-spacing="0.08">18</text>
<text x="251.30" y="875.00" font-size="14" fill="#232323" text-anchor="start" letter-spacing="0.08">nidhi</text>
<text x="401.30" y="875.00" font-size="14" fill="#232323" text-anchor="start" letter-spacing="0.08">Platform Pod</text>
<text x="101.30" y="915.00" font-size="14" fill="#232323" text-anchor="start" letter-spacing="0.08">11</text>
<text x="251.30" y="915.00" font-size="14" fill="#232323" text-anchor="start" letter-spacing="0.08">sumitsum</text>
<text x="401.30" y="915.00" font-size="14" fill="#232323" text-anchor="start" letter-spacing="0.08">Example pod</text>
<text x="101.30" y="955.00" font-size="14" fill="#232323" text-anchor="start" letter-spacing="0.08">20</text>
<text x="251.30" y="955.00" font-size="14" fill="#232323" text-anchor="start" letter-spacing="0.08">Arun Vijayan</text>
<text x="401.30" y="955.00" font-size="14" fill="#232323" text-anchor="start" letter-spacing="0.08">Example pod</text>
</g>
<circle cx="120.60" cy="719.6" r="5.6" fill="none" stroke="#8c8c8c" stroke-width="1.6"/>
<path d="M124.60 723.6 L128.60 727.8" stroke="#8c8c8c" stroke-width="1.8" stroke-linecap="round"/>
<text x="136.70" y="724.70" font-size="13" fill="#a6a6a6" text-anchor="start" >Search...</text>
<circle cx="286.80" cy="715" r="1.7" fill="#6e6e6e"/><rect x="290.50" y="714.15" width="9.7" height="1.7" fill="#6e6e6e"/>
<rect x="284.90" y="719.15" width="9.8" height="1.7" fill="#6e6e6e"/><rect x="296.40" y="718.3" width="2.8" height="3.4" rx="0.6" fill="#6e6e6e"/>
<circle cx="286.80" cy="724.9" r="1.7" fill="#6e6e6e"/><rect x="290.50" y="724.05" width="9.7" height="1.7" fill="#6e6e6e"/>
<text x="307.20" y="725.00" font-size="14" fill="#6e6e6e" text-anchor="start" >Filters</text>
<g fill="#7a7a7a"><ellipse cx="365.90" cy="716.5" rx="3.7" ry="3.5"/><ellipse cx="375.80" cy="716.5" rx="3.7" ry="3.5"/><path d="M363.60 718.2 L378.20 718.2 L375.30 723.4 Q371.00 727.8 366.60 723.4 Z"/><path d="M369.60 712.5 L372.30 712.5 L371.60 719.8 Q371.00 721.2 370.30 719.8 Z" fill="#fff"/></g>
<text x="385.70" y="725.00" font-size="14" fill="#6e6e6e" text-anchor="start" >Download</text>
<g fill="#6e6e6e"><path d="M471.90 710.6 L475.30 714.8 L468.50 714.8 Z"/><path d="M471.90 727.9 L475.30 723.9 L468.50 723.9 Z"/><rect x="471.20" y="713" width="1.4" height="12"/><rect x="477.10" y="713.1" width="11.3" height="1.8"/><rect x="474.70" y="717" width="13.7" height="1.8"/><rect x="474.70" y="720.4" width="13.7" height="1.8"/><rect x="477.10" y="724.1" width="11.3" height="1.8"/></g>
<rect x="539.80" y="707" width="23.6" height="24" fill="#e6e6e6"/>
<path d="M553.40 714.5 L549.40 719 L553.40 723.5" stroke="#6e6e6e" stroke-width="1.7" fill="none"/>
<text x="571.50" y="723.30" font-size="12.3" fill="#8a8a8a" text-anchor="start" >Page</text>
<rect x="608.10" y="707.5" width="23.2" height="23.2" fill="#fff" stroke="#53565e" stroke-width="1"/>
<text x="619.80" y="723.30" font-size="12.3" fill="#222" text-anchor="middle" >1</text>
<text x="639.50" y="723.30" font-size="12.3" fill="#8a8a8a" text-anchor="start" >of 2</text>
<rect x="669.20" y="707.5" width="23.2" height="23.2" fill="#fff" stroke="#e2e2e2" stroke-width="1"/>
<path d="M678.60 714.5 L682.60 719 L678.60 723.5" stroke="#6e6e6e" stroke-width="1.7" fill="none"/>
<rect x="725.00" y="739" width="624.00" height="31" fill="#f7f8fa"/>
<rect x="724.50" y="738" width="625.00" height="1" fill="#e6e6e6"/>
<rect x="724.50" y="770" width="625.00" height="1" fill="#e6e6e6"/>
<rect x="724.50" y="810" width="625.00" height="1" fill="#e6e6e6"/>
<rect x="724.50" y="850" width="625.00" height="1" fill="#e6e6e6"/>
<rect x="724.50" y="890" width="625.00" height="1" fill="#e6e6e6"/>
<rect x="724.50" y="930" width="625.00" height="1" fill="#e6e6e6"/>
<rect x="724.50" y="970" width="625.00" height="1" fill="#e6e6e6"/>
<rect x="874.50" y="739" width="1" height="231" fill="#e8e8e8"/>
<rect x="1024.50" y="739" width="1" height="231" fill="#e8e8e8"/>
<clipPath id="c2"><rect x="724.50" y="700" width="624.00" height="271"/></clipPath>
<g clip-path="url(#c2)">
<text x="735.30" y="760.00" font-size="14" fill="#3a3a3a" text-anchor="start" letter-spacing="0.35" stroke="#3a3a3a" stroke-width="0.25">date</text>
<text x="885.30" y="760.00" font-size="14" fill="#3a3a3a" text-anchor="start" letter-spacing="0.35" stroke="#3a3a3a" stroke-width="0.25">name</text>
<text x="1035.30" y="760.00" font-size="14" fill="#3a3a3a" text-anchor="start" letter-spacing="0.35" stroke="#3a3a3a" stroke-width="0.25">notes</text>
<text x="735.30" y="795.00" font-size="14" fill="#232323" text-anchor="start" letter-spacing="0.6">2021-08-23</text>
<text x="885.30" y="795.00" font-size="14" fill="#232323" text-anchor="start" letter-spacing="0.08">Batman</text>
<text x="1035.30" y="795.00" font-size="14" fill="#232323" text-anchor="start" letter-spacing="0.22">OOO. Appointment with the ENT for my sore throat. Will be back tomorrow.</text>
<text x="735.30" y="835.00" font-size="14" fill="#232323" text-anchor="start" letter-spacing="0.6">2021-08-23</text>
<text x="885.30" y="835.00" font-size="14" fill="#232323" text-anchor="start" letter-spacing="0.08">Superman</text>
<text x="1035.30" y="835.00" font-size="14" fill="#232323" text-anchor="start" letter-spacing="0.22">OOO. Spending some time in the sun. Vitamin D is important.</text>
<text x="735.30" y="875.00" font-size="14" fill="#232323" text-anchor="start" letter-spacing="0.6">2021-08-23</text>
<text x="885.30" y="875.00" font-size="14" fill="#232323" text-anchor="start" letter-spacing="0.08">Captain America</text>
<text x="1035.30" y="875.00" font-size="14" fill="#232323" text-anchor="start" letter-spacing="0.22">Fell asleep in the north pole. I have a lot to catch up on.</text>
<text x="735.30" y="915.00" font-size="14" fill="#232323" text-anchor="start" letter-spacing="0.6">2021-08-23</text>
<text x="885.30" y="915.00" font-size="14" fill="#232323" text-anchor="start" letter-spacing="0.08">Hulk</text>
<text x="1035.30" y="915.00" font-size="14" fill="#232323" text-anchor="start" letter-spacing="0.22">Meditation and Yoga for my anger issues followed by a nap.</text>
<text x="735.30" y="955.00" font-size="14" fill="#232323" text-anchor="start" letter-spacing="0.6">2021-08-23</text>
<text x="885.30" y="955.00" font-size="14" fill="#232323" text-anchor="start" letter-spacing="0.08">Iron Man</text>
<text x="1035.30" y="955.00" font-size="14" fill="#232323" text-anchor="start" letter-spacing="0.22">Holding a press conference to tell the world that I am Iron Man.</text>
</g>
<circle cx="754.60" cy="719.6" r="5.6" fill="none" stroke="#8c8c8c" stroke-width="1.6"/>
<path d="M758.60 723.6 L762.60 727.8" stroke="#8c8c8c" stroke-width="1.8" stroke-linecap="round"/>
<text x="770.70" y="724.70" font-size="13" fill="#a6a6a6" text-anchor="start" >Search...</text>
<circle cx="920.80" cy="715" r="1.7" fill="#6e6e6e"/><rect x="924.50" y="714.15" width="9.7" height="1.7" fill="#6e6e6e"/>
<rect x="918.90" y="719.15" width="9.8" height="1.7" fill="#6e6e6e"/><rect x="930.40" y="718.3" width="2.8" height="3.4" rx="0.6" fill="#6e6e6e"/>
<circle cx="920.80" cy="724.9" r="1.7" fill="#6e6e6e"/><rect x="924.50" y="724.05" width="9.7" height="1.7" fill="#6e6e6e"/>
<text x="941.20" y="725.00" font-size="14" fill="#6e6e6e" text-anchor="start" >Filters</text>
<g fill="#7a7a7a"><ellipse cx="999.90" cy="716.5" rx="3.7" ry="3.5"/><ellipse cx="1009.80" cy="716.5" rx="3.7" ry="3.5"/><path d="M997.60 718.2 L1012.20 718.2 L1009.30 723.4 Q1005.00 727.8 1000.60 723.4 Z"/><path d="M1003.60 712.5 L1006.30 712.5 L1005.60 719.8 Q1005.00 721.2 1004.30 719.8 Z" fill="#fff"/></g>
<text x="1019.70" y="725.00" font-size="14" fill="#6e6e6e" text-anchor="start" >Download</text>
<g fill="#6e6e6e"><path d="M1105.90 710.6 L1109.30 714.8 L1102.50 714.8 Z"/><path d="M1105.90 727.9 L1109.30 723.9 L1102.50 723.9 Z"/><rect x="1105.20" y="713" width="1.4" height="12"/><rect x="1111.10" y="713.1" width="11.3" height="1.8"/><rect x="1108.70" y="717" width="13.7" height="1.8"/><rect x="1108.70" y="720.4" width="13.7" height="1.8"/><rect x="1111.10" y="724.1" width="11.3" height="1.8"/></g>
<rect x="1173.80" y="707" width="23.6" height="24" fill="#e6e6e6"/>
<path d="M1187.40 714.5 L1183.40 719 L1187.40 723.5" stroke="#6e6e6e" stroke-width="1.7" fill="none"/>
<text x="1205.50" y="723.30" font-size="12.3" fill="#8a8a8a" text-anchor="start" >Page</text>
<rect x="1242.10" y="707.5" width="23.2" height="23.2" fill="#fff" stroke="#53565e" stroke-width="1"/>
<text x="1253.80" y="723.30" font-size="12.3" fill="#222" text-anchor="middle" >1</text>
<text x="1273.50" y="723.30" font-size="12.3" fill="#8a8a8a" text-anchor="start" >of 2</text>
<rect x="1303.20" y="707.5" width="23.2" height="23.2" fill="#fff" stroke="#e2e2e2" stroke-width="1"/>
<path d="M1312.60 714.5 L1316.60 719 L1312.60 723.5" stroke="#6e6e6e" stroke-width="1.7" fill="none"/>
</svg>
</body></html>
